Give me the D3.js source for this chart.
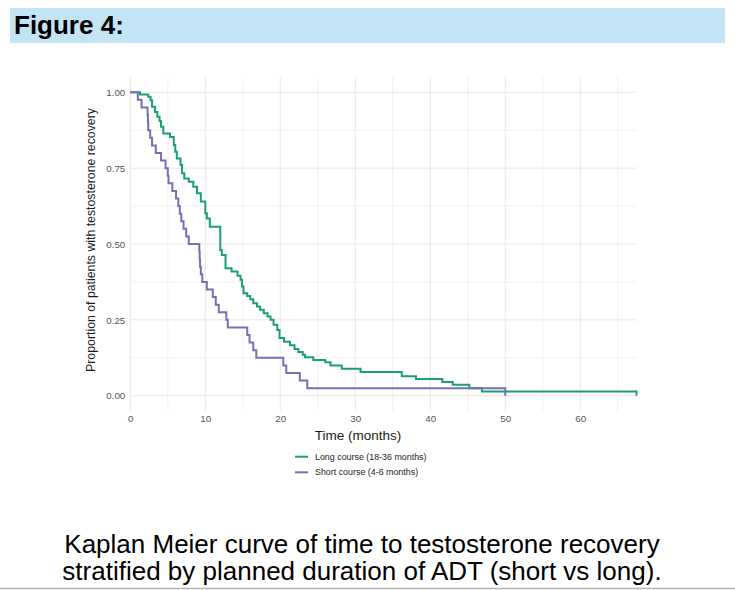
<!DOCTYPE html>
<html>

<head>
  <meta charset='utf-8'>
  <title>Figure 4</title>
  <script type='text/javascript' src='https://cdn.jsdelivr.net/npm/d3@7/dist/d3.min.js'></script>
  <style>
    body { margin: 0; background: #fff; }
  </style>
</head>

<body>
  <script type='text/javascript'>
    // Kaplan Meier steps: time (months) and proportion after each step
    const shortTime = [0, 1.0, 1.5, 2.3, 2.35, 2.4, 2.65, 2.9, 3.4, 4.1, 4.7, 5.0, 5.1, 5.6, 6.1, 6.4, 6.6, 6.8, 7.1, 7.45, 7.8,
      9.2, 9.25, 9.3, 9.4, 9.6, 10.2, 11.0, 11.4, 11.8, 12.8, 13.0, 15.6, 15.9, 16.4, 16.8, 20.4, 20.8, 22.6, 23.6, 50];
    const shortSurv = [1, .975, .95, .925, .9, .875, .85, .825, .8, .775, .75, .725, .7, .675, .65, .625, .6, .575, .55, .525, .5,
      .475, .45, .425, .4, .375, .35, .325, .3, .275, .25, .225, .2, .175, .15, .125, .1, .075, .05, .025, 0];

    const longTime = [0, 1.3, 2.4, 2.7, 2.9, 3.3, 3.6, 3.9, 4.1, 4.4, 5.3, 5.8, 6.0, 6.2, 6.7, 6.9, 7.2, 7.8, 8.4, 8.9, 9.4,
      10.0, 10.2, 10.6, 12.0, 12.2, 12.7, 13.5, 14.3, 14.7, 14.9, 15.1, 15.6, 16.0, 16.4, 16.9, 17.3, 17.8, 18.3, 18.7,
      19.1, 19.6, 19.9, 20.5, 21.3, 21.9, 22.4, 23.0, 23.3, 24.4, 26.0, 26.7, 28.2, 30.7, 36.2, 38.1, 41.6, 43.0, 45.2, 46.9, 67.5];
    const longSurv = [1, .993, .985, .974, .952, .935, .919, .905, .886, .864, .853, .826, .804, .782, .76, .733, .716, .705, .689, .667, .64,
      .601, .584, .557, .48, .464, .42, .409, .395, .382, .36, .338, .329, .318, .305, .294, .283, .272, .261, .25,
      .234, .217, .19, .178, .166, .154, .144, .135, .127, .118, .11, .1, .089, .078, .064, .055, .045, .036, .025, .014, 0];

    const xTicks = [0, 10, 20, 30, 40, 50, 60];
    const yTicks = [0, 0.25, 0.5, 0.75, 1];
    const seriesNames = ['Long course (18-36 months)', 'Short course (4-6 months)'];
    const seriesColors = ['#1b9e77', '#7570b3'];

    const width = 735;
    const height = 590;
    const panel = { left: 130.3, right: 636.5, top: 77.1, bottom: 410.9 };

    const svg = d3.select('body').append('svg')
      .attr('width', width)
      .attr('height', height)
      .style('display', 'block');

    // header band
    svg.append('rect')
      .attr('x', 10).attr('y', 8)
      .attr('width', 715).attr('height', 35)
      .attr('fill', '#c3e4f4');
    svg.append('text')
      .attr('x', 14).attr('y', 34)
      .attr('font-family', 'Liberation Sans, Arial, sans-serif')
      .attr('font-weight', 'bold')
      .attr('font-size', 26)
      .attr('fill', '#000')
      .text('Figure 4:');

    const x = d3.scaleLinear().domain([0, 67.5]).range([panel.left, panel.right]);
    const y = d3.scaleLinear().domain([-0.05, 1.05]).range([panel.bottom, panel.top]);

    // grid (major + minor)
    const grid = svg.append('g');
    grid.selectAll('line.v')
      .data(d3.range(0, 66, 5))
      .join('line')
      .attr('x1', d => x(d)).attr('x2', d => x(d))
      .attr('y1', panel.top).attr('y2', panel.bottom)
      .attr('stroke', d => d % 10 === 0 ? '#e8e8e8' : '#f1f1f1')
      .attr('stroke-width', 1);
    grid.selectAll('line.h')
      .data(d3.range(0, 1.01, 0.125))
      .join('line')
      .attr('x1', panel.left).attr('x2', panel.right)
      .attr('y1', d => y(d)).attr('y2', d => y(d))
      .attr('stroke', (d, i) => i % 2 === 0 ? '#e8e8e8' : '#f1f1f1')
      .attr('stroke-width', 1);

    // axes, text only
    const xAxis = svg.append('g')
      .attr('transform', `translate(0,${panel.bottom})`)
      .call(d3.axisBottom(x).tickValues(xTicks).tickSize(0).tickPadding(4).tickFormat(d3.format('d')));
    const yAxis = svg.append('g')
      .attr('transform', `translate(${panel.left},0)`)
      .call(d3.axisLeft(y).tickValues(yTicks).tickSize(0).tickPadding(5).tickFormat(d3.format('.2f')));
    [xAxis, yAxis].forEach(a => {
      a.select('.domain').remove();
      a.selectAll('text')
        .attr('font-family', 'Liberation Sans, Arial, sans-serif')
        .attr('font-size', 9.8)
        .attr('fill', '#555');
    });

    // curves
    const line = d3.line()
      .x(d => x(d[0]))
      .y(d => y(d[1]))
      .curve(d3.curveStepAfter);
    const series = [d3.zip(longTime, longSurv), d3.zip(shortTime, shortSurv)];
    svg.append('g')
      .selectAll('path')
      .data(series)
      .join('path')
      .attr('d', line)
      .attr('fill', 'none')
      .attr('stroke', (d, i) => seriesColors[i])
      .attr('stroke-width', 2);

    // axis titles
    svg.append('text')
      .attr('x', 358).attr('y', 439.5)
      .attr('text-anchor', 'middle')
      .attr('font-family', 'Liberation Sans, Arial, sans-serif')
      .attr('font-size', 13.5)
      .attr('fill', '#1a1a1a')
      .text('Time (months)');
    svg.append('text')
      .attr('transform', 'translate(95,240) rotate(-90)')
      .attr('text-anchor', 'middle')
      .attr('font-family', 'Liberation Sans, Arial, sans-serif')
      .attr('font-size', 12.3)
      .attr('fill', '#1a1a1a')
      .text('Proportion of patients with testosterone recovery');

    // legend
    const legend = svg.append('g')
      .selectAll('g')
      .data(seriesNames)
      .join('g')
      .attr('transform', (d, i) => `translate(295,${456.7 + i * 15.6})`);
    legend.append('line')
      .attr('x1', 0).attr('x2', 13)
      .attr('stroke', (d, i) => seriesColors[i])
      .attr('stroke-width', 2);
    legend.append('text')
      .attr('x', 20).attr('dy', '0.35em')
      .attr('font-family', 'Liberation Sans, Arial, sans-serif')
      .attr('font-size', 8.9)
      .attr('fill', '#222')
      .text(d => d);

    // caption
    const caption = ['Kaplan Meier curve of time to testosterone recovery',
      'stratified by planned duration of ADT (short vs long).'];
    svg.append('g')
      .selectAll('text')
      .data(caption)
      .join('text')
      .attr('x', 362)
      .attr('y', (d, i) => 553 + i * 27)
      .attr('text-anchor', 'middle')
      .attr('font-family', 'Liberation Sans, Arial, sans-serif')
      .attr('font-size', 26)
      .attr('fill', '#000')
      .text(d => d);

    // bottom rule
    svg.append('line')
      .attr('x1', 0).attr('x2', width)
      .attr('y1', 588.5).attr('y2', 588.5)
      .attr('stroke', '#b5b5b5')
      .attr('stroke-width', 1.5);
  </script>
</body>

</html>
